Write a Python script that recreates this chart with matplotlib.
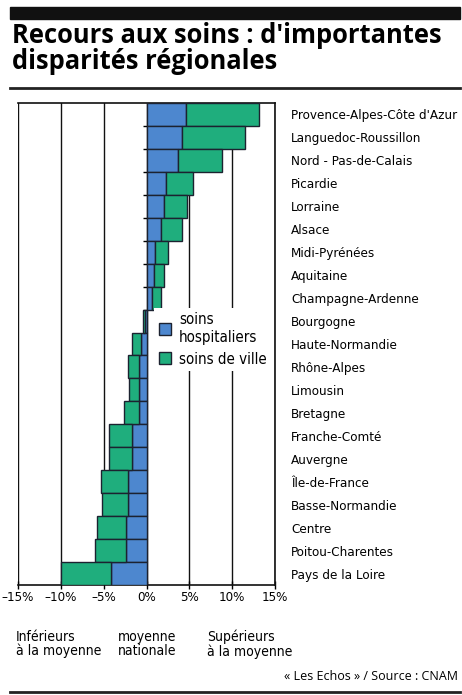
import numpy as np
import matplotlib
matplotlib.use("Agg")
import matplotlib.pyplot as plt
from matplotlib.patches import Rectangle
from matplotlib.lines import Line2D

regions = ["Provence-Alpes-Côte d'Azur", "Languedoc-Roussillon", "Nord - Pas-de-Calais",
           "Picardie", "Lorraine", "Alsace", "Midi-Pyrénées", "Aquitaine",
           "Champagne-Ardenne", "Bourgogne", "Haute-Normandie", "Rhône-Alpes",
           "Limousin", "Bretagne", "Franche-Comté", "Auvergne", "Île-de-France",
           "Basse-Normandie", "Centre", "Poitou-Charentes", "Pays de la Loire"]
# ecart a la moyenne nationale (%)
hospitaliers = [4.6, 4.1, 3.65, 2.3, 2.1, 1.7, 0.95, 0.9, 0.7, -0.15, -0.6, -0.9,
                -0.9, -0.9, -1.65, -1.65, -2.2, -2.2, -2.4, -2.4, -4.15]
ville = [8.5, 7.4, 5.2, 3.15, 2.65, 2.4, 1.55, 1.2, 1.0, -0.25, -1.05, -1.25,
         -1.2, -1.7, -2.75, -2.7, -3.1, -3.05, -3.4, -3.6, -5.85]
xticks = [-15, -10, -5, 0, 5, 10, 15]
xlabels = ["–15%", "–10%", "–5%", "0%", "5%", "10%", "15%"]

blue = "#4d87cf"
green = "#1fae7d"
edge = "#1c2230"
narrow = dict(family="DejaVu Sans", stretch="condensed")

W, H = 462, 695
fig = plt.figure(figsize=(W / 100, H / 100), dpi=100)

# bandeau noir + filets
fig.patches.append(Rectangle((10 / W, 1 - 19 / H), 450 / W, 12 / H,
                             transform=fig.transFigure, color="#111111"))
fig.lines.append(Line2D([10 / W, 460 / W], [1 - 88 / H, 1 - 88 / H],
                        transform=fig.transFigure, color="#222222", lw=2))
fig.lines.append(Line2D([10 / W, 460 / W], [1 - 692 / H, 1 - 692 / H],
                        transform=fig.transFigure, color="#222222", lw=2))

fig.text(12 / W, 1 - 43 / H, "Recours aux soins : d'importantes", fontsize=18.4,
         fontweight="bold", family=["Open Sans", "DejaVu Sans"], va="baseline")
fig.text(12 / W, 1 - 69 / H, "disparités régionales", fontsize=18.4,
         fontweight="bold", family=["Open Sans", "DejaVu Sans"], va="baseline")

ax = fig.add_axes([18 / W, 110 / H, 257 / W, 482 / H])
y = np.arange(len(regions))
ax.barh(y, hospitaliers, height=1.0, color=blue, edgecolor=edge, lw=1,
        label="soins\nhospitaliers", zorder=3)
ax.barh(y, ville, left=hospitaliers, height=1.0, color=green, edgecolor=edge, lw=1,
        label="soins de ville", zorder=3)

ax.set_xlim(-15, 15)
ax.set_ylim(len(regions) - 0.5, -0.5)
ax.set_xticks(xticks)
ax.set_xticklabels(xlabels, fontsize=9.5, **narrow)
ax.tick_params(axis="x", direction="inout", length=6, width=1, pad=1)
ax.grid(axis="x", color="#111111", lw=1)
ax.set_axisbelow(True)

# noms de regions a droite, petits traits sur l'axe zero
ax.spines["left"].set_position(("data", 0))
ax.spines["left"].set_visible(False)
ax.set_yticks(y)
ax.set_yticklabels(regions, fontsize=9.6, **narrow)
ax.set_yticks(np.arange(0.5, len(regions) - 0.5, 1), minor=True)
ax.tick_params(axis="y", which="major", left=False, right=False,
               labelleft=False, labelright=True, pad=8)
ax.tick_params(axis="y", which="minor", left=True, direction="out", length=3, width=1)
for s in ["top", "right", "bottom"]:
    ax.spines[s].set_linewidth(1.2)
    ax.spines[s].set_color("#111111")

leg = ax.legend(loc="upper left", bbox_to_anchor=(0.53, 0.575), frameon=True,
                fancybox=False, edgecolor="none", facecolor="white", framealpha=1,
                prop=dict(size=10.8, **narrow), handlelength=0.85,
                handleheight=0.85, handletextpad=0.5, borderpad=0.3, labelspacing=0.45,
                borderaxespad=0)
leg.set_zorder(5)

lab = dict(fontsize=10, va="top", linespacing=1.0, **narrow)
fig.text(16 / W, 1 - 630 / H, "Inférieurs\nà la moyenne", **lab)
fig.text(118 / W, 1 - 630 / H, "moyenne\nnationale", **lab)
fig.text(207 / W, 1 - 630 / H, "Supérieurs\nà la moyenne", **lab)
fig.text(458 / W, 1 - 677 / H, "« Les Echos » / Source : CNAM", fontsize=9,
         family=["Open Sans", "DejaVu Sans"], ha="right", va="center")

fig.savefig("out.png", dpi=100)
